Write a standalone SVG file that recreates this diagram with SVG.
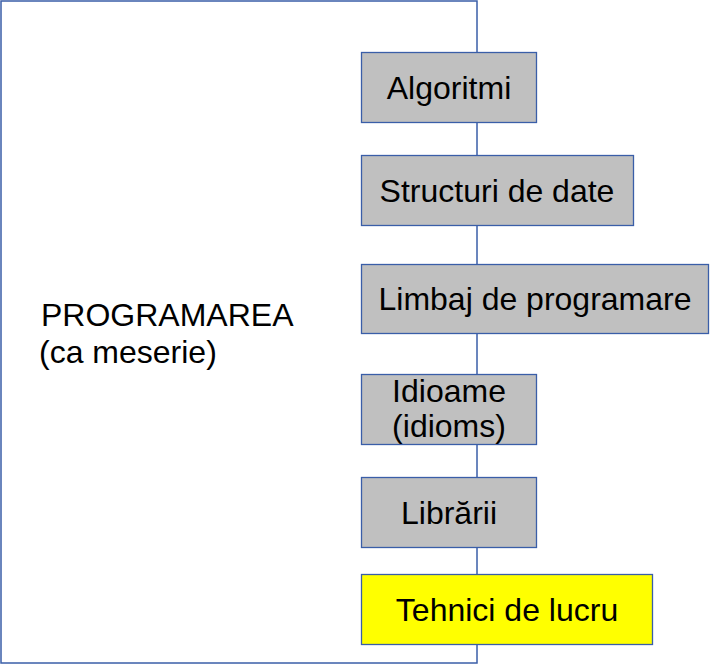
<svg xmlns="http://www.w3.org/2000/svg" width="710" height="664" viewBox="0 0 710 664">
<style>
.box{fill:#c0c0c0;stroke:#3a5ea8;stroke-width:1.3}
.hl{fill:#ffff00;stroke:#3a5ea8;stroke-width:1.3}
text{font-family:"Liberation Sans",Arial,sans-serif;font-size:32px;fill:#000}
.c{text-anchor:middle}
</style>
<g id="programarea">
<rect x="1" y="1" width="476" height="662" fill="#ffffff" stroke="#3a5ea8" stroke-width="1.5"/>
<text x="41" y="326">PROGRAMAREA</text>
<text x="39" y="363">(ca meserie)</text>
</g>
<g id="connectors"></g>
<g id="algoritmi">
<rect class="box" x="361.5" y="52.5" width="175" height="70"/>
<text class="c" x="449" y="99">Algoritmi</text>
</g>
<g id="structuri">
<rect class="box" x="361.5" y="155.5" width="272" height="70"/>
<text class="c" x="497" y="202">Structuri de date</text>
</g>
<g id="limbaj">
<rect class="box" x="361.5" y="264.5" width="347" height="69"/>
<text class="c" x="535" y="310">Limbaj de programare</text>
</g>
<g id="idioame">
<rect class="box" x="361.5" y="374.5" width="175" height="70"/>
<text class="c" x="449" y="402">Idioame</text>
<text class="c" x="449" y="437">(idioms)</text>
</g>
<g id="librarii">
<rect class="box" x="361.5" y="477.5" width="175" height="70"/>
<text class="c" x="449" y="524">Librării</text>
</g>
<g id="tehnici">
<rect class="hl" x="361.5" y="574.5" width="291" height="70"/>
<text class="c" x="507" y="621">Tehnici de lucru</text>
</g>
</svg>
